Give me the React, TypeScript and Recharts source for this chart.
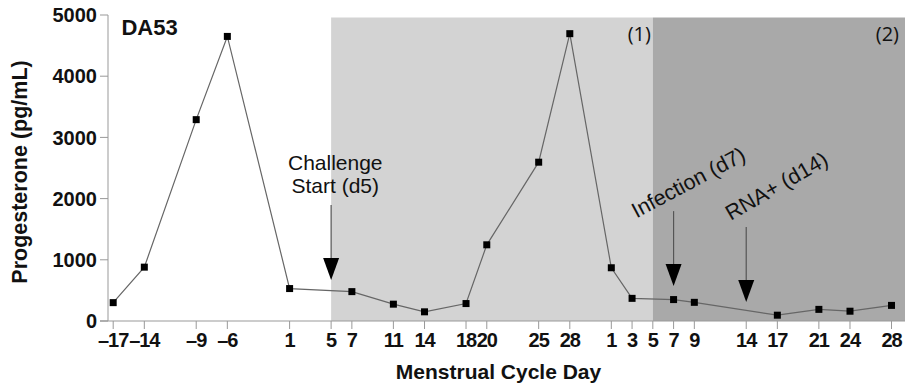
import { LineChart, Line, XAxis, YAxis, ReferenceArea, ReferenceDot } from "recharts";

// continuous timeline index (days since first sample), with the cycle-day labels shown on the axis
const sampleT = [0, 3, 8, 11, 17, 23, 27, 30, 34, 36, 41, 44, 48, 50, 54, 56, 64, 68, 71, 75];
const sampleDay = [-17, -14, -9, -6, 1, 7, 11, 14, 18, 20, 25, 28, 1, 3, 7, 9, 17, 21, 24, 28];
const progesterone = [300, 880, 3290, 4650, 530, 480, 275, 150, 285, 1245, 2595, 4695, 870, 370, 350, 305, 95, 190, 160, 255];

const tickT = [0, 3, 8, 11, 17, 21, 23, 27, 30, 34, 36, 41, 44, 48, 50, 52, 54, 56, 61, 64, 68, 71, 75];
const tickLabels = ["–17", "–14", "–9", "–6", "1", "5", "7", "11", "14", "18", "20", "25", "28", "1", "3", "5", "7", "9", "14", "17", "21", "24", "28"];
const yTicks = [0, 1000, 2000, 3000, 4000, 5000];

// shaded phases: (1) challenge period, (2) after infection
const phaseStart = [21, 52];
const phaseEnd = [52, 76.3];
const phaseFill = ["#d3d3d3", "#a9a9a9"];

// arrows: timeline position and value at arrow tip
const arrowT = [21, 54, 61];
const arrowTip = [670, 570, 310];

const data = sampleT.map((t, i) => ({ t, day: sampleDay[i], value: progesterone[i] }));

const FONT = "'Liberation Sans', Arial, sans-serif";

const Square = (p: any) => {
  if (p.cx == null || p.cy == null) return <g key={p.key} />;
  return <rect key={p.key} x={p.cx - 3.5} y={p.cy - 3.5} width={7} height={7} fill="#000" />;
};

const Arrow = (p: any) => (
  <g>
    <line x1={p.cx} y1={p.cy - 75} x2={p.cx} y2={p.cy - 20} stroke="#555" strokeWidth={1.2} />
    <polygon points={`${p.cx - 8},${p.cy - 22} ${p.cx + 8},${p.cy - 22} ${p.cx},${p.cy}`} fill="#000" />
  </g>
);

const TextAt = (text: string, opts: any = {}) => (p: any) => (
  <text
    x={p.cx}
    y={p.cy}
    textAnchor={opts.anchor || "middle"}
    fontFamily={opts.font || FONT}
    fontSize={opts.size || 21}
    fontWeight={opts.weight || "normal"}
    fill="#111"
    dominantBaseline={opts.baseline || "alphabetic"}
    transform={opts.rotate ? `rotate(${opts.rotate}, ${p.cx}, ${p.cy})` : undefined}
  >
    {text}
  </text>
);

const ChallengeText = (p: any) => (
  <text x={p.cx} y={p.cy} textAnchor="middle" fontFamily={FONT} fontSize={21} fill="#111">
    <tspan x={p.cx} dy={0}>Challenge</tspan>
    <tspan x={p.cx} dy={23}>Start (d5)</tspan>
  </text>
);

const AxisStub = (p: any) => <line x1={p.cx - 8} y1={p.cy} x2={p.cx} y2={p.cy} stroke="#999" strokeWidth={1.2} />;

const YTitle = (p: any) => {
  const vb = p.viewBox || {};
  const cx = 27;
  const cy = (vb.y || 15) + (vb.height || 306) / 2 + 4;
  return (
    <text x={cx} y={cy} transform={`rotate(-90, ${cx}, ${cy})`} textAnchor="middle" fontFamily={FONT} fontSize={21.5} fontWeight="bold" fill="#111">
      Progesterone  (pg/mL)
    </text>
  );
};

export default function App() {
  return (
    <div style={{ position: "absolute", left: 0, top: 0, background: "#fff" }}>
      <LineChart width={906} height={390} data={data} margin={{ top: 15, right: 1, bottom: 0, left: 0 }}>
        {phaseStart.map((s, i) => (
          <ReferenceArea key={i} x1={s} x2={phaseEnd[i]} y1={0} y2={4960} fill={phaseFill[i]} fillOpacity={1} stroke="none" ifOverflow="visible" />
        ))}
        <XAxis
          type="number"
          dataKey="t"
          domain={[-0.5, 76.3]}
          ticks={tickT}
          interval={0}
          tickFormatter={(v: number) => tickLabels[tickT.indexOf(v)]}
          height={69}
          tickSize={8}
          tickMargin={4}
          stroke="#999"
          tick={{ fill: "#111", fontSize: 20, fontWeight: "bold", fontFamily: FONT, letterSpacing: -1 }}
          label={{ value: "Menstrual Cycle Day", position: "insideBottom", offset: 11, dx: -8, fill: "#111", fontSize: 21, fontWeight: "bold", fontFamily: FONT }}
        />
        <YAxis
          type="number"
          domain={[0, 5000]}
          ticks={yTicks}
          width={108}
          tickSize={8}
          tickMargin={3}
          stroke="#999"
          tick={{ fill: "#111", fontSize: 20, fontWeight: "bold", fontFamily: FONT }}
          label={{ content: YTitle }}
        />
        <ReferenceDot x={-0.5} y={0} r={0} shape={AxisStub} ifOverflow="visible" />
        <Line type="linear" dataKey="value" stroke="#666" strokeWidth={1.2} dot={Square} isAnimationActive={false} />
        {arrowT.map((t, i) => (
          <ReferenceDot key={"a" + i} x={t} y={arrowTip[i]} r={0} shape={Arrow} ifOverflow="visible" />
        ))}
        <ReferenceDot x={0.8} y={4673} r={0} ifOverflow="visible" shape={TextAt("DA53", { anchor: "start", weight: "bold", size: 22 })} />
        <ReferenceDot x={50.7} y={4575} r={0} ifOverflow="visible" shape={TextAt("(1)", { font: "'Open Sans', sans-serif", size: 20 })} />
        <ReferenceDot x={74.6} y={4575} r={0} ifOverflow="visible" shape={TextAt("(2)", { font: "'Open Sans', sans-serif", size: 20 })} />
        <ReferenceDot x={21.4} y={2467} r={0} ifOverflow="visible" shape={ChallengeText} />
        <ReferenceDot x={55.5} y={2240} r={0} ifOverflow="visible" shape={TextAt("Infection (d7)", { rotate: -28, baseline: "middle", size: 21.5 })} />
        <ReferenceDot x={64} y={2180} r={0} ifOverflow="visible" shape={TextAt("RNA+ (d14)", { rotate: -30, baseline: "middle", size: 21.5 })} />
      </LineChart>
    </div>
  );
}
